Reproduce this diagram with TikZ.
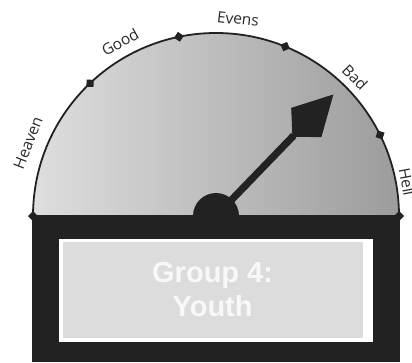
\documentclass[tikz,border=0pt]{standalone}
\usepackage{fontspec}
\setmainfont{Open Sans}
\newfontfamily\boxfont{Liberation Sans}
\definecolor{bodyblack}{HTML}{222222}
\definecolor{faceleft}{HTML}{DEDEDE}
\definecolor{faceright}{HTML}{9C9C9C}
\definecolor{screengray}{HTML}{DCDCDC}
\definecolor{labelgray}{HTML}{2A2A2A}
\definecolor{screentext}{HTML}{F8F8F8}
\tikzset{
  dial label/.style={font=\fontsize{15.5}{17}\selectfont, text=labelgray, inner sep=0pt},
  tickmark/.style={fill=bodyblack},
}
\begin{document}
\begin{tikzpicture}[x=1pt,y=1pt]
\useasboundingbox (0,0) rectangle (412,362);
\coordinate (c) at (216,146);
% face
\shade[left color=faceleft, right color=faceright, draw=bodyblack, line width=1.8pt]
  (33,146) arc[start angle=180, end angle=0, radius=183] -- cycle;
% body
\fill[bodyblack] (32,0) rectangle (400,147);
% hub
\fill[bodyblack] (c) circle[radius=23];
% needle
\begin{scope}[shift={(c)}, rotate=46]
  \fill[bodyblack] (0,-3.6) rectangle (112,3.6);
  \fill[bodyblack] (110,0) -- (130,-21) -- (169,0) -- (130,21) -- cycle;
\end{scope}
% ticks
\foreach \a in {0,26.3,67.8,101.7,133.5,180}{
  \fill[tickmark, shift={(c)}, rotate=\a] (178,0) -- (183,5) -- (188,0) -- (183,-5) -- cycle;
}
% labels
\node[dial label, rotate=68.8] (heaven) at (28,219) {Heaven};
\node[dial label, rotate=28.9] (good) at (120,320) {Good};
\node[dial label, rotate=-6.4] (evens) at (238,343) {Evens};
\node[dial label, rotate=-45] (bad) at (355,285) {Bad};
\node[dial label, rotate=-79.3] (hell) at (407,180) {Hell};
% screen
\fill[white] (59,20) rectangle (373,123);
\fill[screengray] (62.5,24) rectangle (362.7,120);
\node[font=\boxfont\bfseries\fontsize{29}{34}\selectfont, text=screentext, align=center, inner sep=0pt] (screen) at (212.6,72) {Group 4:\\Youth};
\end{tikzpicture}
\end{document}
